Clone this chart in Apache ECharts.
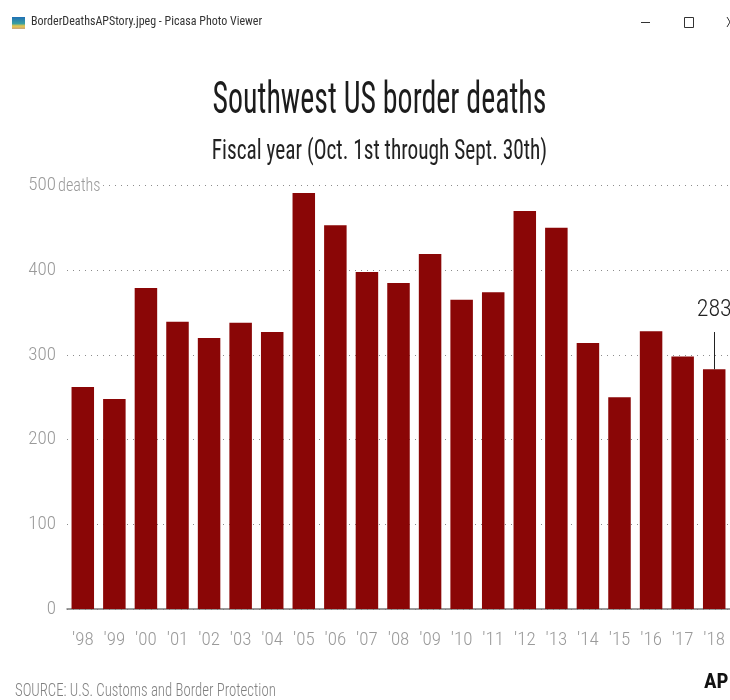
<!DOCTYPE html>
<html>
<head>
<meta charset="utf-8">
<style>html,body{margin:0;padding:0;background:#fff}#chart{width:730px;height:700px}</style>
<script src="https://cdn.jsdelivr.net/npm/echarts@6/dist/echarts.min.js"></script>
</head>
<body>
<div id="chart"></div>
<script>
// Southwest US border deaths by fiscal year
const years = ["'98","'99","'00","'01","'02","'03","'04","'05","'06","'07","'08","'09","'10","'11","'12","'13","'14","'15","'16","'17","'18"];
const deaths = [262,248,379,339,320,338,327,491,453,398,385,419,365,374,470,450,314,250,328,298,283];
const yTicks = { min: 0, max: 500, interval: 100 };
const calloutYear = "'18";
const calloutValue = 283;
const calloutLineEnd = 327;

const narrow = '"Roboto Condensed", "Liberation Sans", sans-serif';
const tickGrey = '#9a9a9a';
const chart = echarts.init(document.getElementById('chart'));

chart.setOption({
  animation: false,
  backgroundColor: '#ffffff',
  grid: { left: 67, right: -1, top: 185.5, bottom: 91, containLabel: false },
  xAxis: {
    type: 'category',
    data: years,
    axisTick: { show: false },
    axisLine: { lineStyle: { color: '#7a7a7a', width: 1.5 } },
    axisLabel: { interval: 0, margin: 22, fontFamily: narrow, fontWeight: 300, fontSize: 19, color: tickGrey }
  },
  yAxis: {
    type: 'value',
    min: yTicks.min,
    max: yTicks.max,
    interval: yTicks.interval,
    axisLine: { show: false },
    axisTick: { show: false },
    axisLabel: { margin: 11, fontFamily: narrow, fontWeight: 300, fontSize: 19, color: tickGrey },
    splitLine: { lineStyle: { color: '#8c8c8c', width: 1, type: [1, 5] } }
  },
  series: [{
    type: 'bar',
    data: deaths,
    barWidth: 22.5,
    itemStyle: { color: '#8a0606' },
    markLine: {
      silent: true,
      symbol: 'none',
      lineStyle: { color: '#222222', width: 1, type: 'solid' },
      label: { position: 'end', distance: 10, formatter: String(calloutValue), fontFamily: narrow, fontWeight: 300, fontSize: 24, color: '#222222' },
      data: [[
        { coord: [calloutYear, calloutValue] },
        { coord: [calloutYear, calloutLineEnd] }
      ]]
    }
  }],
  graphic: [
    // heading and subheading, squeezed to the tall condensed face
    { type: 'text', x: 379.5, y: 102, scaleX: 0.68, originX: 0, originY: 0,
      style: { text: 'Southwest US border deaths', fontFamily: narrow, fontWeight: 400, fontSize: 44, fill: '#1c1c1c', align: 'center', verticalAlign: 'middle' } },
    { type: 'text', x: 379.5, y: 152, scaleX: 0.79, originX: 0, originY: 0,
      style: { text: 'Fiscal year (Oct. 1st through Sept. 30th)', fontFamily: narrow, fontWeight: 400, fontSize: 27, fill: '#222222', align: 'center', verticalAlign: 'middle' } },
    // unit beside the top tick, masking the dotted line behind it
    { type: 'text', x: 58, y: 186, z: 10, scaleX: 0.85, originX: 0, originY: 0,
      style: { text: 'deaths', fontFamily: narrow, fontWeight: 300, fontSize: 19, fill: tickGrey, backgroundColor: '#ffffff', padding: [0, 3, 0, 0], verticalAlign: 'middle' } },
    { type: 'text', x: 15, y: 691, scaleX: 0.82, originX: 0, originY: 0,
      style: { text: 'SOURCE: U.S. Customs and Border Protection', fontFamily: narrow, fontWeight: 300, fontSize: 18, fill: '#808080', verticalAlign: 'middle' } },
    { type: 'text', x: 704, y: 683,
      style: { text: 'AP', fontFamily: narrow, fontSize: 21, fontWeight: 'bold', fill: '#111111', verticalAlign: 'middle' } },
    // viewer window title bar
    { type: 'rect', shape: { x: 12, y: 17, width: 13, height: 12 },
      style: { fill: new echarts.graphic.LinearGradient(0, 0, 0, 1, [
        { offset: 0, color: '#1f6fb5' }, { offset: 0.55, color: '#3aa0a0' }, { offset: 0.75, color: '#e8c84a' }, { offset: 1, color: '#c9a57a' }
      ]) } },
    { type: 'text', x: 31, y: 22,
      style: { text: 'BorderDeathsAPStory.jpeg - Picasa Photo Viewer', fontFamily: narrow, fontSize: 12, fill: '#333333', verticalAlign: 'middle' } },
    { type: 'rect', shape: { x: 641, y: 22, width: 9, height: 1 }, style: { fill: '#333333' } },
    { type: 'rect', shape: { x: 684.5, y: 17.5, width: 9, height: 10 }, style: { fill: 'none', stroke: '#333333', lineWidth: 1 } },
    { type: 'line', shape: { x1: 727, y1: 17, x2: 733, y2: 27 }, style: { stroke: '#333333', lineWidth: 1 } },
    { type: 'line', shape: { x1: 727, y1: 27, x2: 733, y2: 17 }, style: { stroke: '#333333', lineWidth: 1 } }
  ]
});
</script>
</body>
</html>
